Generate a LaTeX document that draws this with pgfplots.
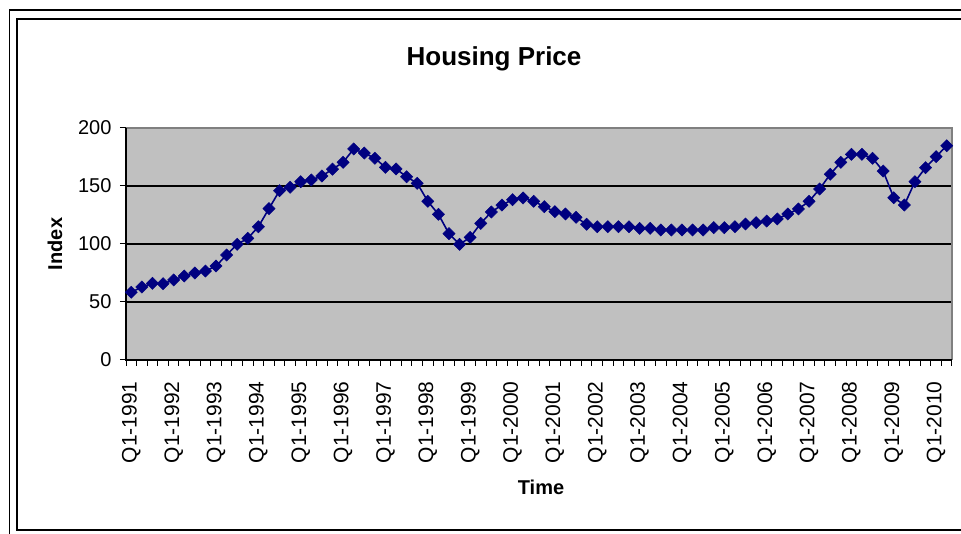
\documentclass[border=0pt]{standalone}
\usepackage{fontspec}
\setmainfont{Liberation Sans}
\usepackage{pgfplots}
\usepackage{pgfplotstable}
\pgfplotsset{compat=1.18}

\definecolor{plotgray}{HTML}{C0C0C0}
\definecolor{framegray}{HTML}{808080}
\definecolor{navyline}{HTML}{000080}

% quarterly index, Q1-1991 = 0
\pgfplotstableread{
q v
0 58.4
1 62.9
2 66.1
3 65.8
4 69.0
5 72.4
6 75.0
7 76.7
8 81.0
9 90.5
10 99.7
11 104.9
12 114.9
13 130.5
14 146.0
15 148.9
16 153.7
17 155.2
18 158.6
19 164.5
20 170.4
21 181.9
22 178.4
23 173.9
24 166.1
25 164.7
26 158.0
27 152.3
28 136.8
29 125.6
30 108.9
31 99.7
32 105.7
33 117.8
34 127.6
35 133.6
36 138.2
37 139.7
38 136.8
39 132.2
40 127.9
41 125.9
42 123.0
43 117.0
44 114.9
45 114.9
46 114.9
47 114.9
48 113.5
49 113.5
50 112.1
51 112.1
52 112.1
53 112.1
54 112.1
55 114.1
56 114.1
57 114.9
58 117.2
59 118.4
60 119.8
61 121.6
62 125.9
63 130.2
64 136.8
65 147.4
66 160.1
67 170.4
68 177.3
69 177.3
70 173.9
71 162.9
72 139.9
73 133.6
74 153.7
75 165.8
76 175.3
77 184.7
}\housing

\begin{document}
\begin{tikzpicture}[x=1pt,y=1pt]
\path[use as bounding box] (0,0) rectangle (961,534);
% chart frame
\draw[line width=1.2pt] (9.5,-20) -- (9.5,524) -- (990,524);
\draw[line width=2pt] (990,3.5) -- (16.5,3.5) -- (16.5,514.5) -- (990,514.5);

\begin{axis}[
  at={(126pt,174pt)}, anchor=south west,
  scale only axis, width=826pt, height=232pt,
  xmin=-0.5, xmax=77.5, ymin=0, ymax=200,
  axis background/.style={fill=plotgray},
  axis line style={draw=none},
  xtick={0,4,...,76},
  xticklabels={Q1-1991,Q1-1992,Q1-1993,Q1-1994,Q1-1995,Q1-1996,Q1-1997,Q1-1998,Q1-1999,Q1-2000,
    Q1-2001,Q1-2002,Q1-2003,Q1-2004,Q1-2005,Q1-2006,Q1-2007,Q1-2008,Q1-2009,Q1-2010},
  minor xtick={-0.5,0.5,...,77.5},
  ytick={0,50,...,200},
  tick pos=left,
  tick align=outside,
  major tick length=6pt, minor tick length=6pt,
  major x tick style={draw=none},
  minor x tick style={black, line width=1pt},
  major y tick style={black, line width=1pt},
  ymajorgrids, major grid style={black, line width=1.2pt},
  /pgf/number format/assume math mode=true,
  yticklabel style={font=\fontsize{20}{24}\selectfont},
  yticklabel shift=5pt,
  xticklabel style={font=\fontsize{21}{25}\selectfont, rotate=90, anchor=east},
  xticklabel shift=12pt,
  clip=false,
]
\addplot[navyline, line width=1.6pt, mark=square*, mark size=4.3pt,
  mark options={rotate=45, fill=navyline, draw=navyline, line width=0.5pt}]
  table[x=q, y=v] {\housing};
\draw[framegray, line width=1.5pt] (rel axis cs:0,1) -- (rel axis cs:1,1) -- (rel axis cs:1,0);
\draw[black, line width=1.5pt] (rel axis cs:0,1) -- (rel axis cs:0,0) -- (rel axis cs:1,0);
\end{axis}

\node[font=\bfseries\fontsize{26}{30}\selectfont, anchor=base] at (494,468) {Housing Price};
\node[font=\bfseries\fontsize{20}{24}\selectfont, anchor=base] at (541,39) {Time};
\node[font=\bfseries\fontsize{20}{24}\selectfont, anchor=base, rotate=90] at (62,290) {Index};
\end{tikzpicture}
\end{document}
